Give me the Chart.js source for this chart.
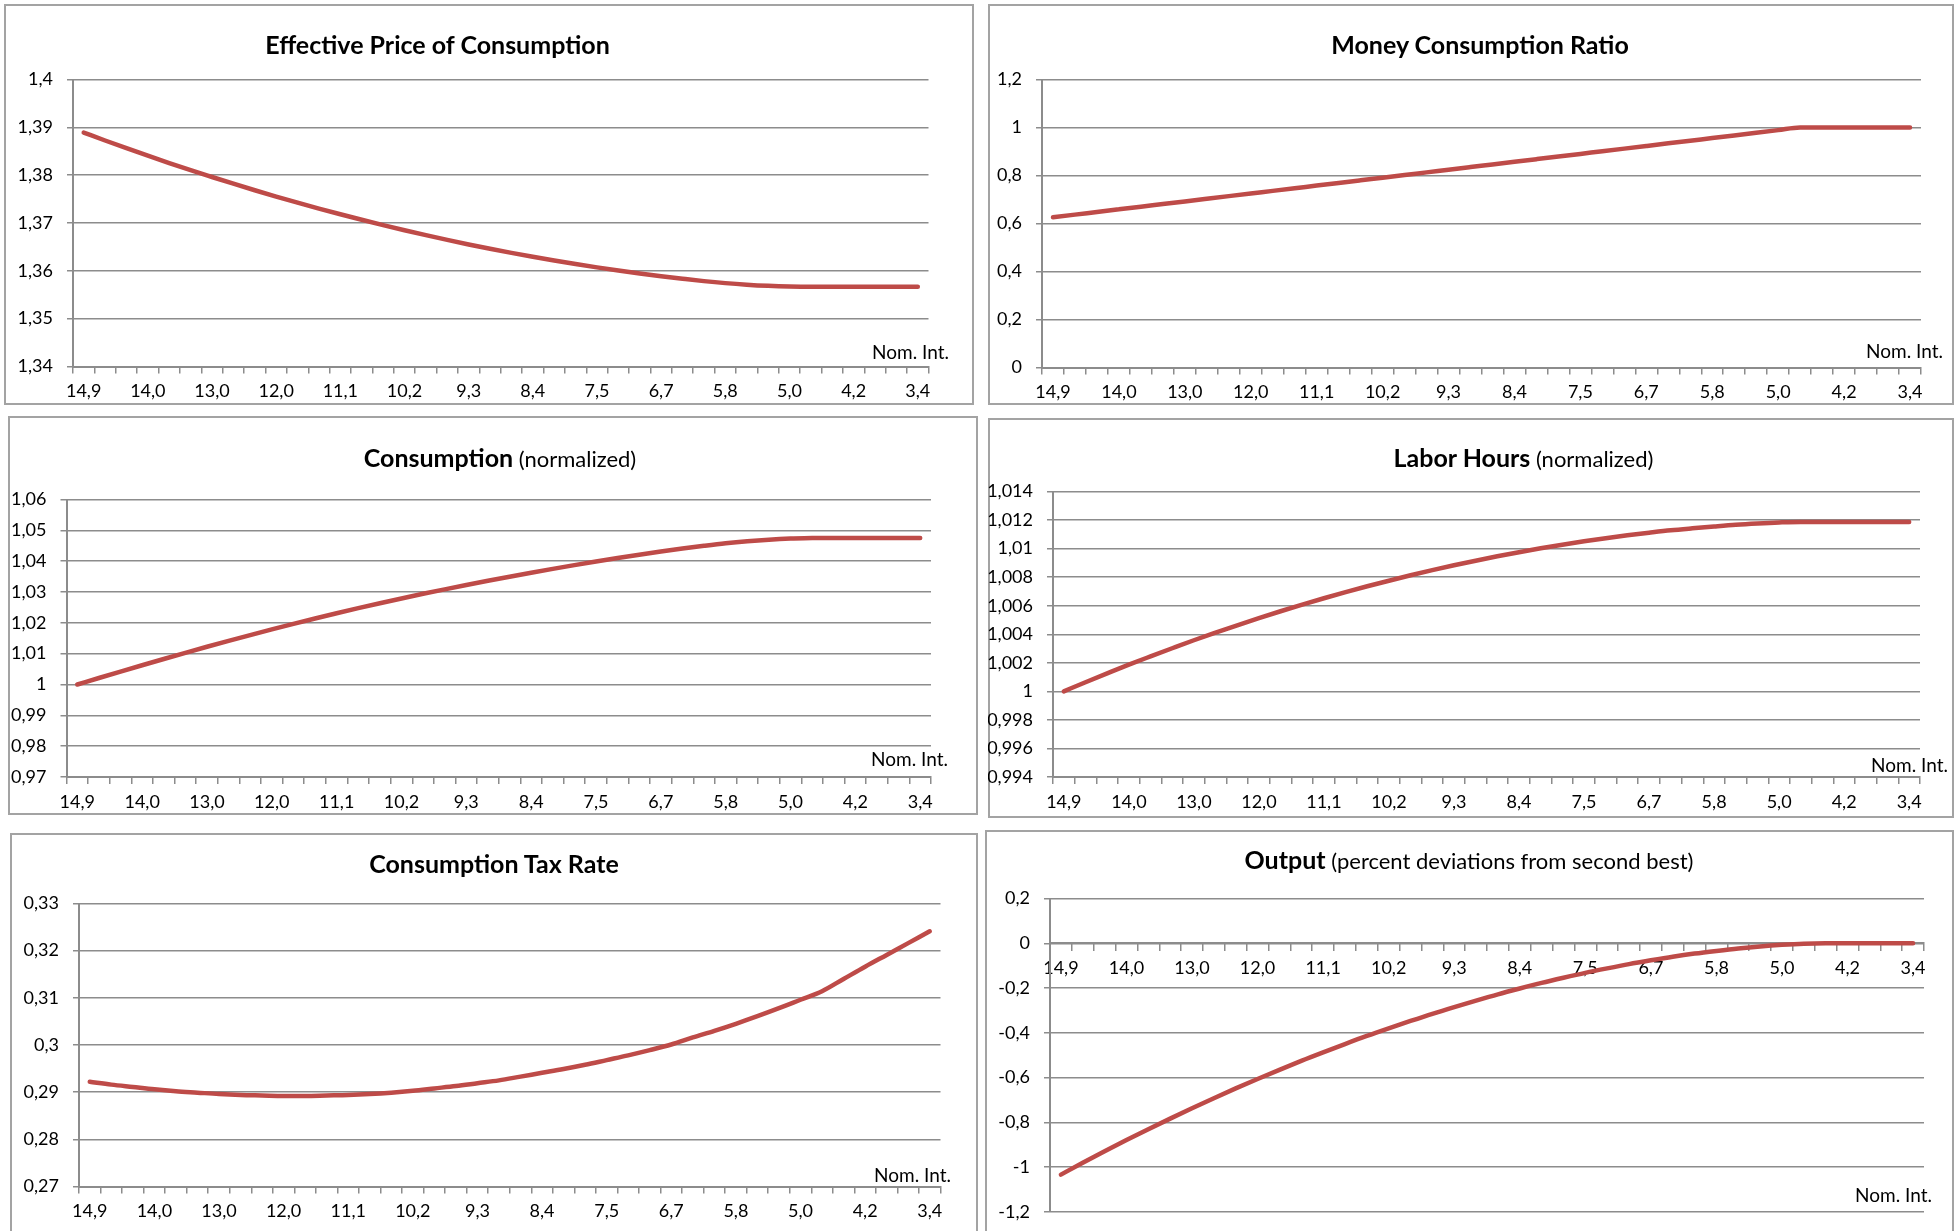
<!DOCTYPE html>
<html>
<head>
<meta charset="utf-8">
<script src="https://cdn.jsdelivr.net/npm/chart.js@4.4.1/dist/chart.umd.min.js"></script>
<style>
  html, body { margin: 0; padding: 0; background: #fff; }
  #page { position: relative; width: 1959px; height: 1231px; overflow: hidden; font-family: Lato, "Open Sans", sans-serif; color: #000; }
  .panel { position: absolute; box-sizing: border-box; border: 2px solid #a3a3a3; background: #fff; }
  canvas { position: absolute; }
  .title { position: absolute; width: 800px; text-align: center; font-size: 25px; line-height: 25px; white-space: nowrap; }
  .title b { font-weight: 700; }
  .title span { font-weight: 400; font-size: 22px; }
  .axisname { position: absolute; width: 200px; text-align: right; font-size: 19px; line-height: 19px; white-space: nowrap; }
</style>
</head>
<body>
<div id="page"></div>
<script>
// Nominal interest rate (x categories, every third one is labelled)
const nomInt = [14.9, 14.6, 14.3, 14.0, 13.7, 13.3, 13.0, 12.7, 12.3, 12.0,
                11.7, 11.4, 11.1, 10.8, 10.5, 10.2, 9.9, 9.6, 9.3, 9.0,
                8.7, 8.4, 8.1, 7.8, 7.5, 7.2, 7.0, 6.7, 6.4, 6.1,
                5.8, 5.5, 5.3, 5.0, 4.7, 4.5, 4.2, 3.9, 3.7, 3.4];

const effectivePrice = [1.38890, 1.38725, 1.38564, 1.38407, 1.38254, 1.38105, 1.37962, 1.37821, 1.37685, 1.37553,
                        1.37425, 1.37302, 1.37182, 1.37067, 1.36956, 1.36849, 1.36746, 1.36647, 1.36552, 1.36462,
                        1.36376, 1.36293, 1.36215, 1.36142, 1.36072, 1.36006, 1.35945, 1.35888, 1.35835, 1.35785,
                        1.35743, 1.35710, 1.35686, 1.35671, 1.35665, 1.35665, 1.35665, 1.35665, 1.35665, 1.35665];

const moneyRatio = [0.626, 0.637, 0.648, 0.659, 0.670, 0.681, 0.692, 0.703, 0.714, 0.725,
                    0.736, 0.747, 0.758, 0.769, 0.780, 0.791, 0.802, 0.813, 0.824, 0.835,
                    0.846, 0.857, 0.868, 0.879, 0.890, 0.901, 0.912, 0.923, 0.934, 0.945,
                    0.956, 0.967, 0.978, 0.989, 1.000, 1.000, 1.000, 1.000, 1.000, 1.000];

const consumption = [1.00000, 1.00210, 1.00418, 1.00624, 1.00827, 1.01027, 1.01223, 1.01415, 1.01603, 1.01787,
                     1.01966, 1.02141, 1.02311, 1.02476, 1.02636, 1.02791, 1.02941, 1.03086, 1.03227, 1.03364,
                     1.03497, 1.03626, 1.03751, 1.03872, 1.03989, 1.04102, 1.04210, 1.04313, 1.04410, 1.04500,
                     1.04582, 1.04647, 1.04697, 1.04732, 1.04752, 1.04752, 1.04752, 1.04752, 1.04752, 1.04752];

const laborHours = [1.00000, 1.00064, 1.00126, 1.00187, 1.00245, 1.00302, 1.00358, 1.00411, 1.00463, 1.00513,
                    1.00561, 1.00607, 1.00652, 1.00695, 1.00736, 1.00775, 1.00813, 1.00849, 1.00883, 1.00915,
                    1.00946, 1.00975, 1.01002, 1.01027, 1.01051, 1.01073, 1.01093, 1.01111, 1.01128, 1.01142,
                    1.01155, 1.01167, 1.01176, 1.01183, 1.01187, 1.01187, 1.01187, 1.01187, 1.01187, 1.01187];

const taxRate = [0.2922, 0.2916, 0.2911, 0.2906, 0.2902, 0.2899, 0.2896, 0.2894, 0.2893, 0.2892,
                 0.2892, 0.2893, 0.2894, 0.2896, 0.2899, 0.2903, 0.2908, 0.2913, 0.2919, 0.2925,
                 0.2933, 0.2941, 0.2949, 0.2958, 0.2968, 0.2978, 0.2989, 0.3001, 0.3016, 0.3030,
                 0.3045, 0.3061, 0.3078, 0.3096, 0.3114, 0.3140, 0.3166, 0.3191, 0.3216, 0.3241];

const outputDev = [-1.033, -0.980, -0.929, -0.879, -0.830, -0.783, -0.737, -0.692, -0.648, -0.606,
                   -0.565, -0.525, -0.487, -0.450, -0.414, -0.380, -0.347, -0.315, -0.285, -0.256,
                   -0.228, -0.202, -0.177, -0.154, -0.132, -0.112, -0.093, -0.076, -0.060, -0.046,
                   -0.034, -0.023, -0.014, -0.007, -0.002, 0.000, 0.000, 0.000, 0.000, 0.000];

const xAxisName = 'Nom. Int.';

// Panel layout: outer box, plot area, title and axis-name placement (page pixels)
const panels = [
  { data: effectivePrice, bold: 'Effective Price of Consumption', note: '',
    yMin: 1.34, yMax: 1.4, yStep: 0.01, dec: 2,
    box: [4, 4, 974, 405], plot: [73, 79.5, 928.5, 366.5],
    title: [437.5, 54], name: [949, 359] },
  { data: moneyRatio, bold: 'Money Consumption Ratio', note: '',
    yMin: 0, yMax: 1.2, yStep: 0.2, dec: 1,
    box: [988, 4, 1954, 405], plot: [1042, 79.5, 1921, 367.5],
    title: [1480, 54], name: [1943, 358] },
  { data: consumption, bold: 'Consumption', note: ' (normalized)',
    yMin: 0.97, yMax: 1.06, yStep: 0.01, dec: 2,
    box: [8, 416, 978, 815], plot: [66.5, 499.5, 931, 777],
    title: [500, 467], name: [948, 766] },
  { data: laborHours, bold: 'Labor Hours', note: ' (normalized)',
    yMin: 0.994, yMax: 1.014, yStep: 0.002, dec: 3,
    box: [988, 418, 1954, 818], plot: [1053, 491.5, 1920, 777],
    title: [1523.5, 467.5], name: [1948, 772] },
  { data: taxRate, bold: 'Consumption Tax Rate', note: '',
    yMin: 0.27, yMax: 0.33, yStep: 0.01, dec: 2,
    box: [10, 833, 978, 1240], plot: [79, 903.5, 940.5, 1186.5],
    title: [494, 873], name: [951, 1182] },
  { data: outputDev, bold: 'Output', note: ' (percent deviations from second best)',
    yMin: -1.2, yMax: 0.2, yStep: 0.2, dec: 1, xAtZero: true,
    box: [985, 830, 1954, 1240], plot: [1050, 898.5, 1924, 1212],
    title: [1469, 869], name: [1932, 1202] }
];

const FONT = 'Lato, "Open Sans", sans-serif';
const TICK_SIZE = 18;
const GRID = '#8c8c8c';
const LINE = '#BE4B48';

// value axis: shortest form with a decimal comma ("1,4", "0,996", "-0,2")
function fmt(v, d) {
  return parseFloat(Number(v).toFixed(d)).toString().replace('.', ',');
}
// category axis: always one decimal ("14,0")
function fmtRate(v) {
  return v.toFixed(1).replace('.', ',');
}

const page = document.getElementById('page');

panels.forEach(p => {
  const [bl, bt, br, bb] = p.box;
  const [pl, pt, pr, pb] = p.plot;
  const w = br - bl, h = bb - bt;

  const frame = document.createElement('div');
  frame.className = 'panel';
  Object.assign(frame.style, { left: bl + 'px', top: bt + 'px', width: w + 'px', height: h + 'px' });
  page.appendChild(frame);

  const cv = document.createElement('canvas');
  cv.width = w; cv.height = h;
  Object.assign(cv.style, { left: bl + 'px', top: bt + 'px', width: w + 'px', height: h + 'px' });
  page.appendChild(cv);

  const title = document.createElement('div');
  title.className = 'title';
  title.innerHTML = '<b></b><span></span>';
  title.querySelector('b').textContent = p.bold;
  title.querySelector('span').textContent = p.note;
  Object.assign(title.style, { left: (p.title[0] - 400) + 'px', top: (p.title[1] - 22.2) + 'px' });
  page.appendChild(title);

  const nm = document.createElement('div');
  nm.className = 'axisname';
  nm.textContent = xAxisName;
  Object.assign(nm.style, { left: (p.name[0] - 200) + 'px', top: (p.name[1] - 16.9) + 'px' });
  page.appendChild(nm);

  const yWidth = pl - bl;
  const xHeight = 45;
  const padBottom = p.xAtZero ? (bb - pb) : (bb - pb - xHeight);

  const xScale = {
    type: 'category',
    offset: true,
    position: p.xAtZero ? { y: 0 } : 'bottom',
    grid: { offset: true, drawOnChartArea: false, drawTicks: true, tickLength: 7, color: GRID, lineWidth: 1.5 },
    border: { display: true, color: GRID, width: 2 },
    ticks: {
      autoSkip: false, maxRotation: 0, minRotation: 0, padding: 7,
      color: '#000', font: { family: FONT, size: TICK_SIZE },
      callback: (val, i) => (i % 3 === 0 ? fmtRate(nomInt[i]) : '')
    }
  };
  if (!p.xAtZero) xScale.afterFit = s => { s.height = xHeight; };

  new Chart(cv, {
    type: 'line',
    data: {
      labels: nomInt.map(fmtRate),
      datasets: [{
        data: p.data,
        borderColor: LINE,
        borderWidth: 4.5,
        pointRadius: 0,
        cubicInterpolationMode: 'monotone',
        borderCapStyle: 'round',
        borderJoinStyle: 'round',
        clip: 10
      }]
    },
    options: {
      responsive: false,
      animation: false,
      devicePixelRatio: 1,
      layout: { padding: { left: 0, top: pt - bt, right: br - pr, bottom: padBottom } },
      plugins: { legend: { display: false }, tooltip: { enabled: false }, title: { display: false } },
      scales: {
        x: xScale,
        y: {
          type: 'linear',
          min: p.yMin, max: p.yMax,
          afterFit: s => { s.width = yWidth; },
          grid: { color: GRID, lineWidth: 1.5, drawTicks: true, tickLength: 6 },
          border: { display: true, color: GRID, width: 2 },
          ticks: {
            stepSize: p.yStep, padding: 14, color: '#000',
            font: { family: FONT, size: TICK_SIZE },
            callback: v => fmt(v, p.dec)
          }
        }
      }
    }
  });
});
</script>
</body>
</html>
